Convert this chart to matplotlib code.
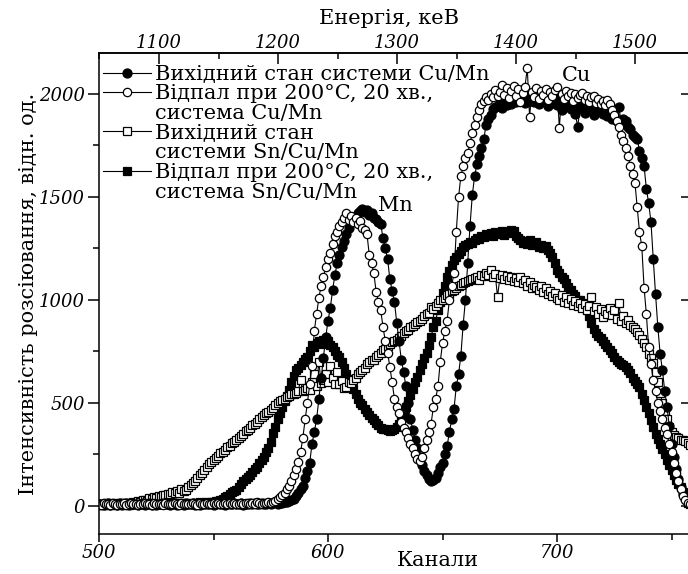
import matplotlib
matplotlib.use("Agg")
import matplotlib.pyplot as plt
import numpy as np
from matplotlib.lines import Line2D
from matplotlib.ticker import MultipleLocator

plt.rcParams.update(
    {
        "font.family": "DejaVu Serif",
        "font.size": 13,
        "axes.linewidth": 1.1,
    }
)

# one point per channel, 500 ... 758
channels = np.arange(500, 759)

# initial state, Cu/Mn (filled circles)
cu_mn_init = [
    8, 12, 5, 10, 14, 6, 9, 11, 4, 13,
    7, 10, 15, 6, 9, 12, 8, 5, 11, 14,
    6, 9, 13, 7, 10, 5, 12, 8, 15, 9,
    11, 6, 10, 14, 7, 12, 9, 5, 13, 8,
    10, 15, 7, 11, 6, 13, 9, 12, 8, 14,
    6, 10, 13, 9, 12, 7, 15, 10, 8, 13,
    11, 9, 14, 7, 12, 10, 16, 8, 13, 11,
    9, 14, 12, 10, 15, 11, 13, 17, 12, 16,
    15, 18, 20, 24, 30, 36, 48, 62, 80, 98,
    135, 170, 210, 300, 360, 420, 520, 620, 720, 820,
    900, 960, 1050, 1120, 1180, 1220, 1255, 1285, 1320, 1350,
    1380, 1395, 1405, 1420, 1432, 1440, 1425, 1436, 1412, 1420,
    1400, 1392, 1380, 1370, 1300, 1250, 1200, 1100, 1045, 990,
    890, 800, 710, 650, 580, 500, 420, 370, 320, 280,
    240, 200, 170, 150, 130, 120, 125, 135, 160, 190,
    210, 250, 290, 360, 420, 470, 580, 640, 730, 880,
    1000, 1180, 1360, 1510, 1600, 1660, 1700, 1740, 1780, 1850,
    1880, 1900, 1925, 1935, 1940, 1955, 1930, 1960, 1945, 1975,
    1950, 1980, 1960, 1990, 1970, 2000, 1955, 1985, 1965, 1995,
    1960, 1985, 1950, 1990, 1965, 1975, 1940, 1980, 1955, 1970,
    1945, 1975, 1920, 1960, 1940, 1955, 1925, 1950, 1905, 1840,
    1930, 1945, 1910, 1950, 1925, 1940, 1900, 1935, 1915, 1930,
    1905, 1925, 1895, 1910, 1880, 1900, 1870, 1937, 1860, 1880,
    1870, 1840, 1830, 1800, 1790, 1780, 1725, 1690, 1650, 1540,
    1470, 1380, 1200, 1030, 870, 740, 660, 560, 480, 390,
    300, 240, 180, 130, 90, 60, 40, 25, 15,
]

# annealed 200 C, 20 min, Cu/Mn (open circles)
cu_mn_ann = [
    10, 6, 13, 8, 11, 5, 14, 9, 7, 12,
    9, 13, 6, 10, 15, 8, 11, 7, 12, 10,
    14, 8, 11, 6, 13, 9, 12, 10, 7, 15,
    9, 12, 8, 14, 10, 6, 13, 11, 9, 12,
    8, 13, 10, 7, 14, 11, 9, 15, 12, 8,
    13, 10, 14, 9, 12, 16, 11, 13, 10, 15,
    12, 9, 14, 11, 16, 13, 10, 15, 12, 17,
    14, 11, 16, 13, 18, 15, 20, 26, 34, 44,
    55, 65, 80, 95, 120, 150, 180, 215, 260, 330,
    420, 500, 590, 680, 850, 930, 1010, 1070, 1110, 1160,
    1200, 1230, 1270, 1310, 1330, 1360, 1380, 1400, 1420, 1390,
    1410, 1380, 1400, 1370, 1385, 1350, 1340, 1320, 1220, 1180,
    1130, 1040, 990, 950, 870, 800, 745, 675, 600, 520,
    480, 450, 410, 380, 360, 330, 300, 280, 250, 230,
    220, 240, 280, 320, 360, 400, 480, 520, 580, 700,
    790, 850, 900, 1000, 1070, 1130, 1330, 1500, 1600, 1650,
    1690, 1715, 1760, 1810, 1850, 1890, 1920, 1950, 1965, 1985,
    1970, 2000, 1985, 2020, 1990, 2010, 2044, 1995, 2030, 1980,
    2015, 2040, 1990, 2025, 1960, 2005, 2035, 2126, 1890, 2010,
    1985, 2030, 1975, 2015, 1995, 2025, 1970, 2010, 1990, 2020,
    2034, 1835, 2000, 1975, 2015, 1990, 2005, 1965, 2000, 1980,
    1995, 2005, 1970, 1990, 1960, 1985, 1990, 1955, 1975, 1950,
    1965, 1945, 1971, 1950, 1920, 1900, 1870, 1840, 1800, 1770,
    1740, 1700, 1650, 1610, 1570, 1450, 1330, 1260, 1060, 930,
    770, 690, 610, 560, 500, 460, 420, 380, 350, 300,
    260, 210, 160, 120, 80, 50, 30, 15, 10,
]

# initial state, Sn/Cu/Mn (open squares)
sn_cu_mn_init = [
    6, 10, 4, 12, 8, 14, 7, 11, 5, 13,
    9, 12, 15, 10, 14, 18, 16, 22, 20, 28,
    30, 26, 38, 35, 42, 40, 50, 46, 55, 52,
    60, 58, 66, 62, 72, 63, 80, 75, 78, 92,
    100, 112, 120, 135, 150, 162, 175, 190, 205, 215,
    223, 232, 245, 255, 262, 270, 285, 292, 305, 312,
    320, 332, 340, 350, 362, 369, 380, 392, 400, 410,
    420, 432, 440, 450, 458, 466, 478, 490, 500, 508,
    515, 520, 529, 535, 542, 545, 550, 558, 612, 560,
    563, 575, 563, 600, 640, 580, 700, 597, 610, 640,
    600, 680, 620, 590, 650, 590, 605, 575, 578, 600,
    595, 610, 620, 640, 650, 660, 670, 690, 700, 710,
    710, 725, 735, 743, 755, 760, 775, 785, 795, 800,
    805, 815, 825, 840, 850, 855, 869, 875, 885, 895,
    900, 910, 920, 930, 935, 966, 955, 970, 985, 1000,
    1000, 1010, 1025, 1030, 1045, 1050, 1060, 1070, 1075, 1080,
    1085, 1090, 1097, 1100, 1105, 1110, 1095, 1120, 1115, 1130,
    1120, 1145, 1110, 1125, 1015, 1105, 1120, 1100, 1115, 1095,
    1110, 1090, 1105, 1085, 1112, 1080, 1095, 1070, 1085, 1060,
    1075, 1063, 1050, 1070, 1040, 1060, 1030, 1045, 1020, 1035,
    1010, 1000, 1025, 990, 1015, 985, 1005, 975, 995, 970,
    985, 960, 980, 950, 970, 1015, 945, 965, 930, 955,
    917, 945, 930, 960, 925, 950, 910, 985, 900, 920,
    890, 905, 880, 870, 860, 845, 830, 810, 790, 772,
    740, 720, 694, 650, 600, 549, 500, 460, 420, 383,
    360, 345, 335, 328, 322, 320, 315, 305, 295,
]

# annealed 200 C, 20 min, Sn/Cu/Mn (filled squares)
sn_cu_mn_ann = [
    12, 7, 10, 14, 6, 11, 9, 13, 8, 10,
    13, 9, 11, 7, 15, 10, 12, 8, 14, 11,
    9, 13, 10, 15, 8, 12, 11, 14, 9, 13,
    10, 14, 12, 9, 15, 11, 13, 10, 16, 12,
    14, 11, 15, 13, 17, 14, 16, 18, 15, 20,
    20, 24, 26, 29, 35, 42, 50, 58, 66, 72,
    78, 90, 105, 120, 132, 142, 150, 165, 178, 190,
    210, 225, 240, 262, 280, 310, 354, 385, 420, 450,
    480, 510, 535, 563, 600, 630, 660, 672, 685, 700,
    712, 723, 750, 780, 770, 791, 800, 785, 805, 790,
    800, 780, 772, 750, 735, 723, 700, 670, 640, 615,
    590, 570, 545, 520, 500, 490, 470, 455, 440, 428,
    417, 405, 392, 380, 375, 372, 369, 366, 370, 375,
    383, 400, 430, 455, 480, 510, 540, 570, 600, 626,
    660, 690, 720, 743, 780, 820, 869, 900, 950, 990,
    1034, 1070, 1112, 1140, 1170, 1194, 1210, 1225, 1240, 1255,
    1265, 1270, 1280, 1275, 1290, 1300, 1295, 1310, 1305, 1320,
    1315, 1325, 1310, 1330, 1325, 1320, 1335, 1315, 1330, 1325,
    1340, 1335, 1310, 1300, 1290, 1277, 1285, 1270, 1290, 1265,
    1270, 1280, 1255, 1265, 1250, 1260, 1243, 1230, 1210, 1180,
    1145, 1130, 1110, 1100, 1080, 1065, 1048, 1030, 1020, 1000,
    1000, 985, 970, 951, 920, 890, 860, 840, 825, 815,
    800, 785, 770, 755, 743, 725, 710, 700, 690, 682,
    675, 660, 645, 620, 605, 590, 578, 545, 515, 480,
    450, 415, 383, 350, 325, 300, 275, 250, 223, 200,
    175, 150, 125, 105, 92, 70, 45, 15, 8,
]

legend_rows = [
    "Вихідний стан системи Cu/Mn",
    "Відпал при 200°C, 20 хв.,",
    "система Cu/Mn",
    "Вихідний стан",
    "системи Sn/Cu/Mn",
    "Відпал при 200°C, 20 хв.,",
    "система Sn/Cu/Mn",
]

# channel -> energy calibration
E0, KEV_PER_CH = 1049.6, 1.924


def ch2e(c):
    return E0 + KEV_PER_CH * (np.asarray(c, dtype=float) - 500)


def e2ch(e):
    return 500 + (np.asarray(e, dtype=float) - E0) / KEV_PER_CH


fig = plt.figure(figsize=(6.88, 5.74), dpi=100)
ax = fig.add_axes([0.1439, 0.0697, 0.8605, 0.838])

common = dict(color="black", lw=0.8, mec="black", mew=0.9)
h4, = ax.plot(channels, sn_cu_mn_ann, marker="s", ms=6.0, mfc="black", **common)
h3, = ax.plot(channels, sn_cu_mn_init, marker="s", ms=5.5, mfc="white", **common)
h1, = ax.plot(channels, cu_mn_init, marker="o", ms=6.5, mfc="black", **common)
h2, = ax.plot(channels, cu_mn_ann, marker="o", ms=6.0, mfc="white", **common)

ax.set_xlim(500, 758.5)
ax.set_ylim(-136, 2199)

ax.xaxis.set_major_locator(MultipleLocator(100))
ax.xaxis.set_minor_locator(MultipleLocator(50))
ax.yaxis.set_major_locator(MultipleLocator(500))
ax.yaxis.set_minor_locator(MultipleLocator(250))
ax.tick_params(which="both", direction="out", width=1.1, top=False, right=False)
ax.tick_params(axis="y", which="major", length=8, labelsize=13, pad=2)
ax.tick_params(axis="x", which="major", length=5.5, labelsize=13, pad=1.5)
ax.tick_params(which="minor", length=4)
for lab in ax.get_xticklabels() + ax.get_yticklabels():
    lab.set_style("italic")

top = ax.secondary_xaxis("top", functions=(ch2e, e2ch))
top.xaxis.set_major_locator(MultipleLocator(100))
top.xaxis.set_minor_locator(MultipleLocator(50))
top.tick_params(which="both", direction="in", width=1.1, pad=1)
top.tick_params(which="major", length=8, labelsize=13)
top.tick_params(which="minor", length=4.5)
for lab in top.get_xticklabels():
    lab.set_style("italic")
top.set_xlabel("Енергія, кеВ", fontsize=15)
top.xaxis.set_label_coords(0.49, 1.052, transform=ax.transAxes)
top.xaxis.label.set_verticalalignment("bottom")

right = ax.secondary_yaxis("right")
right.yaxis.set_major_locator(MultipleLocator(500))
right.tick_params(which="major", direction="in", length=7, width=1.1, labelright=False)
right.tick_params(which="minor", length=0)

ax.set_xlabel("Канали", fontsize=15)
ax.xaxis.set_label_coords(0.573, -0.036)
ax.xaxis.label.set_verticalalignment("top")
ax.set_ylabel("Інтенсивність розсіювання, відн. од.", fontsize=15, labelpad=1)

ax.text(708.5, 2092, "Cu", ha="center", va="center", fontsize=15)
ax.text(629.5, 1461, "Mn", ha="center", va="center", fontsize=15)

blank = Line2D([], [], linestyle="none")
handles = [h1, h2, blank, h3, blank, h4, blank]
leg = ax.legend(
    handles,
    legend_rows,
    loc="upper left",
    bbox_to_anchor=(0.0, 0.984),
    frameon=False,
    fontsize=15,
    handlelength=2.3,
    handletextpad=0.2,
    labelspacing=0.03,
    borderpad=0.0,
    borderaxespad=0.2,
)

fig.savefig("out.png", dpi=100)
